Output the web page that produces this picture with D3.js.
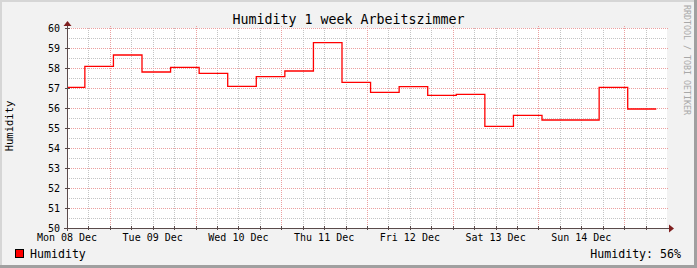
<!DOCTYPE html>
<html>
<head>
<meta charset="utf-8">
<script src="https://cdn.jsdelivr.net/npm/d3@7"></script>
<style>
  body { margin: 0; background: #fff; }
  svg text { font-family: "DejaVu Sans Mono", monospace; }
</style>
</head>
<body>
<svg id="chart" width="697" height="268"></svg>
<script>
// 8-hour averages, each value starts at the matching time
var stepStarts = [
  "2014-12-08 09:00", "2014-12-08 17:00", "2014-12-09 01:00", "2014-12-09 09:00",
  "2014-12-09 17:00", "2014-12-10 01:00", "2014-12-10 09:00", "2014-12-10 17:00",
  "2014-12-11 01:00", "2014-12-11 09:00", "2014-12-11 17:00", "2014-12-12 01:00",
  "2014-12-12 09:00", "2014-12-12 17:00", "2014-12-13 01:00", "2014-12-13 09:00",
  "2014-12-13 17:00", "2014-12-14 01:00", "2014-12-14 09:00", "2014-12-14 17:00",
  "2014-12-15 01:00"
]
var lastStepEnd = "2014-12-15 09:00"
var humidity = [
  57.03, 58.08, 58.65, 57.80, 58.03, 57.73, 57.08, 57.57, 57.85, 59.27, 57.28,
  56.78, 57.07, 56.63, 56.68, 55.08, 55.63, 55.40, 55.40, 57.03, 55.95
]
var timeRange = ["2014-12-08 12:00", "2014-12-15 12:00"]
var yTicks = [50, 51, 52, 53, 54, 55, 56, 57, 58, 59, 60]
var titleText = "Humidity 1 week Arbeitszimmer"
var seriesName = "Humidity"

var parse = d3.timeParse("%Y-%m-%d %H:%M")
var W = 697, H = 268
var plot = {left: 67, right: 667, top: 28, bottom: 228}

var svg = d3.select("#chart")

// frame
svg.append("rect").attr("width", W).attr("height", H).attr("fill", "#f2f2f2")
svg.append("rect").attr("width", W).attr("height", 2).attr("fill", "#d6d6d6")
svg.append("rect").attr("width", 2).attr("height", H).attr("fill", "#d6d6d6")
svg.append("rect").attr("x", W - 3).attr("width", 3).attr("height", H).attr("fill", "#a0a0a0")
svg.append("rect").attr("y", H - 3).attr("width", W).attr("height", 3).attr("fill", "#a0a0a0")

var x = d3.scaleTime()
  .domain(timeRange.map(parse))
  .range([plot.left, plot.right])
var y = d3.scaleLinear()
  .domain([50, 60])
  .range([plot.bottom, plot.top])

svg.append("rect")
  .attr("x", plot.left).attr("y", plot.top)
  .attr("width", plot.right - plot.left).attr("height", plot.bottom - plot.top)
  .attr("fill", "#fff")

var grid = svg.append("g").attr("shape-rendering", "crispEdges")

// minor grid: every 6 hours / every 0.5
var minorT = d3.timeHour.every(6).range(x.domain()[0], x.domain()[1])
grid.selectAll(".vmin").data(minorT).enter().append("line")
  .attr("x1", d => Math.round(x(d)) + 0.5).attr("x2", d => Math.round(x(d)) + 0.5)
  .attr("y1", plot.top).attr("y2", plot.bottom)
  .attr("stroke", "#c4c4c4").attr("stroke-dasharray", "1,1")
var minorY = d3.range(50.5, 60, 1)
grid.selectAll(".hmin").data(minorY).enter().append("line")
  .attr("x1", plot.left).attr("x2", plot.right)
  .attr("y1", d => Math.round(y(d)) + 0.5).attr("y2", d => Math.round(y(d)) + 0.5)
  .attr("stroke", "#c4c4c4").attr("stroke-dasharray", "1,1")

// major grid: midnight / every unit
var days = d3.timeDay.range(x.domain()[0], x.domain()[1])
grid.selectAll(".vmaj").data(days).enter().append("line")
  .attr("x1", d => Math.round(x(d)) + 0.5).attr("x2", d => Math.round(x(d)) + 0.5)
  .attr("y1", plot.top - 2).attr("y2", plot.bottom + 2)
  .attr("stroke", "#eba0a0").attr("stroke-dasharray", "1,1")
grid.selectAll(".hmaj").data(yTicks).enter().append("line")
  .attr("x1", plot.left - 2).attr("x2", plot.right + 2)
  .attr("y1", d => Math.round(y(d)) + 0.5).attr("y2", d => Math.round(y(d)) + 0.5)
  .attr("stroke", "#eba0a0").attr("stroke-dasharray", "1,1")

// data line
svg.append("clipPath").attr("id", "clip").append("rect")
  .attr("x", plot.left).attr("y", plot.top - 2)
  .attr("width", plot.right - plot.left).attr("height", plot.bottom - plot.top + 4)

var points = stepStarts.map((t, i) => ({t: parse(t), v: humidity[i]}))
points.push({t: parse(lastStepEnd), v: humidity[humidity.length - 1]})

var line = d3.line()
  .x(d => x(d.t))
  .y(d => y(d.v))
  .curve(d3.curveStepAfter)

svg.append("path")
  .datum(points)
  .attr("clip-path", "url(#clip)")
  .attr("fill", "none")
  .attr("stroke", "#ff0000")
  .attr("stroke-width", 1.3)
  .attr("d", line)

// axes
var axisCol = "#5a4a4a"
var ax = svg.append("g").attr("shape-rendering", "crispEdges")
ax.append("line")
  .attr("x1", plot.left - 3).attr("x2", plot.right + 2)
  .attr("y1", plot.bottom + 0.5).attr("y2", plot.bottom + 0.5)
  .attr("stroke", axisCol)
ax.append("line")
  .attr("x1", plot.left + 0.5).attr("x2", plot.left + 0.5)
  .attr("y1", plot.bottom + 3).attr("y2", plot.top - 2)
  .attr("stroke", axisCol)
ax.selectAll(".ty").data(yTicks).enter().append("line")
  .attr("x1", plot.left - 2).attr("x2", plot.left + 3)
  .attr("y1", d => Math.round(y(d)) + 0.5).attr("y2", d => Math.round(y(d)) + 0.5)
  .attr("stroke", axisCol)
ax.selectAll(".tx").data(minorT).enter().append("line")
  .attr("x1", d => Math.round(x(d)) + 0.5).attr("x2", d => Math.round(x(d)) + 0.5)
  .attr("y1", plot.bottom - 2).attr("y2", plot.bottom + 2)
  .attr("stroke", axisCol)

var arrowCol = "#7f1f1f"
svg.append("path")
  .attr("d", d3.line()([[plot.right + 2, plot.bottom - 3.5], [plot.right + 7, plot.bottom + 0.5], [plot.right + 2, plot.bottom + 4.5]]))
  .attr("fill", arrowCol)
svg.append("path")
  .attr("d", d3.line()([[plot.left - 3.5, plot.top - 2], [plot.left + 0.5, plot.top - 7], [plot.left + 4.5, plot.top - 2]]))
  .attr("fill", arrowCol)

// tick labels
svg.selectAll(".ylab").data(yTicks).enter().append("text")
  .attr("x", plot.left - 7).attr("y", d => y(d) + 3.5)
  .attr("text-anchor", "end").attr("font-size", 10).attr("fill", "#000")
  .text(d => d)

var noons = days.map(d => d3.timeHour.offset(d, -12))
svg.selectAll(".xlab").data(noons).enter().append("text")
  .attr("x", d => x(d)).attr("y", 241)
  .attr("text-anchor", "middle").attr("font-size", 10).attr("fill", "#000")
  .text(d => d3.timeFormat("%a %d %b")(d))

// titles
svg.append("text")
  .attr("x", W / 2).attr("y", 24)
  .attr("text-anchor", "middle").attr("font-size", 13.3).attr("fill", "#000")
  .text(titleText)
svg.append("text")
  .attr("transform", "translate(13,126) rotate(-90)")
  .attr("text-anchor", "middle").attr("font-size", 10.5).attr("fill", "#000")
  .text(seriesName)
svg.append("text")
  .attr("transform", "translate(684,5) rotate(90)")
  .attr("font-size", 8.3).attr("fill", "#a8a8a8")
  .text("RRDTOOL / TOBI OETIKER")

// legend
svg.append("rect")
  .attr("x", 15.5).attr("y", 249.5).attr("width", 8).attr("height", 8)
  .attr("fill", "#ff0000").attr("stroke", "#000")
svg.append("text")
  .attr("x", 30).attr("y", 257.5).attr("font-size", 11.6).attr("fill", "#000")
  .text(seriesName)
svg.append("text")
  .attr("x", 681).attr("y", 257.5).attr("text-anchor", "end")
  .attr("font-size", 11.6).attr("fill", "#000")
  .text(seriesName + ": " + d3.format(".0f")(humidity[humidity.length - 1]) + "%")
</script>
</body>
</html>
